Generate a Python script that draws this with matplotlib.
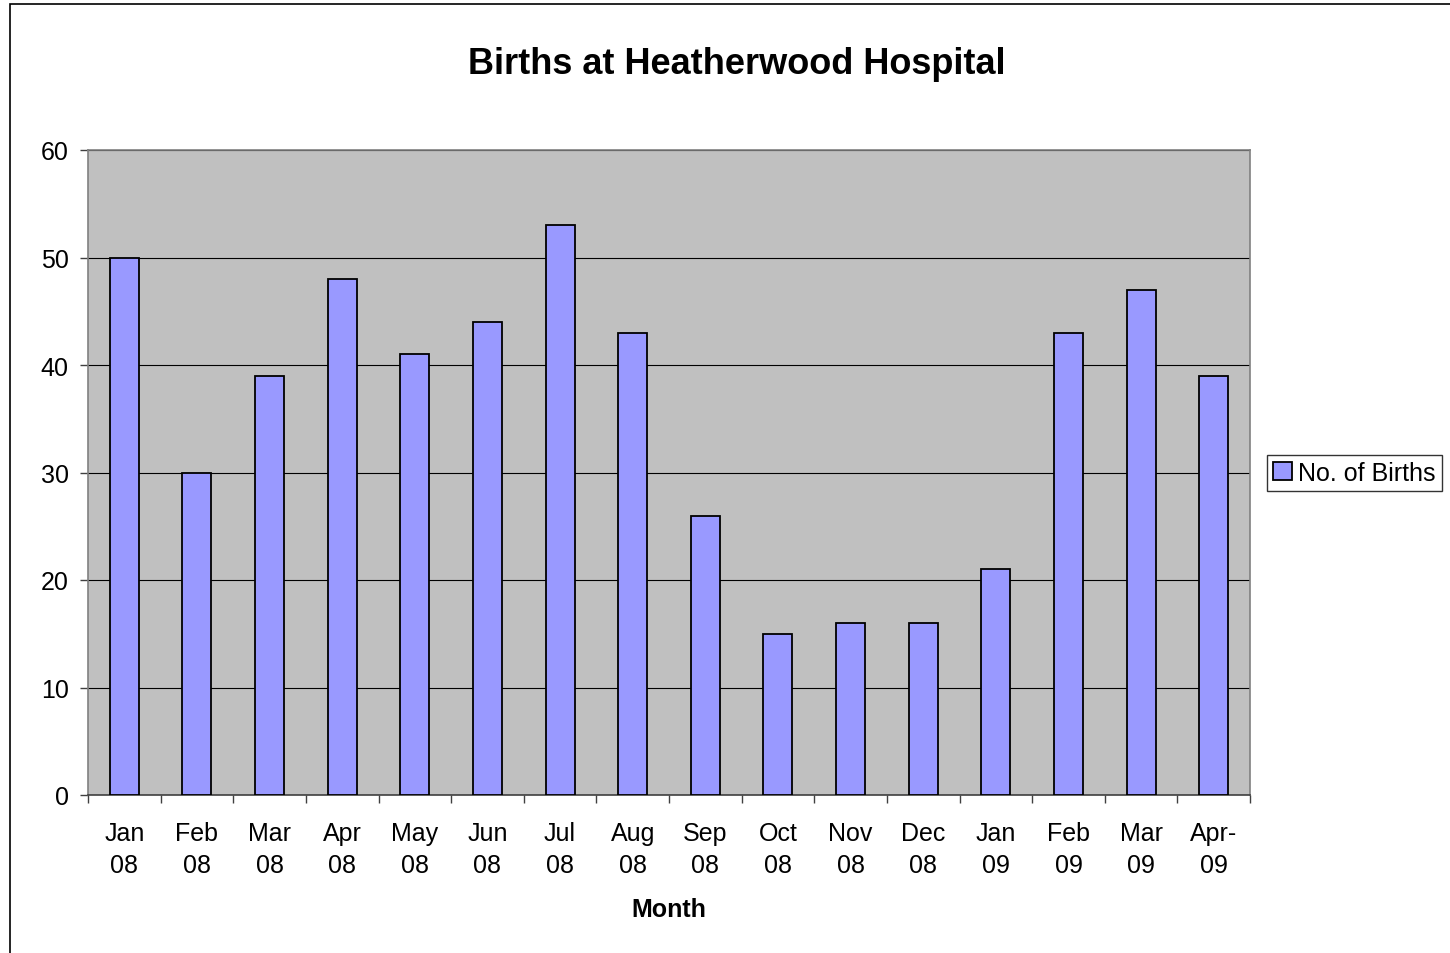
import matplotlib
matplotlib.use("Agg")
import matplotlib.pyplot as plt
from matplotlib.patches import Rectangle

# monthly births, Jan 2008 - Apr 2009
months = ["Jan\n08", "Feb\n08", "Mar\n08", "Apr\n08", "May\n08", "Jun\n08",
          "Jul\n08", "Aug\n08", "Sep\n08", "Oct\n08", "Nov\n08", "Dec\n08",
          "Jan\n09", "Feb\n09", "Mar\n09", "Apr-\n09"]
births = [50, 30, 39, 48, 41, 44, 53, 43, 26, 15, 16, 16, 21, 43, 47, 39]
yticks = [0, 10, 20, 30, 40, 50, 60]

plt.rcParams['font.family'] = ['Liberation Sans', 'DejaVu Sans']

fig = plt.figure(figsize=(14.5, 9.54), dpi=100)
ax = fig.add_axes([88 / 1450, 1 - 796 / 954, (1250 - 88) / 1450, (796 - 151) / 954])

# outer chart border (right/bottom fall outside the image)
fig.patches.append(Rectangle((10 / 1450, -0.1), 1.2, 1.1 - 5 / 954,
                             transform=fig.transFigure, fill=False,
                             edgecolor="black", linewidth=1.2))

ax.set_facecolor("#C0C0C0")
x = list(range(len(months)))
ax.bar(x, births, width=0.4, color="#9999FF", edgecolor="black",
       linewidth=1.3, label="No. of Births", zorder=3)

ax.set_xlim(-0.5, len(months) - 0.5)
ax.set_ylim(0, 60)
ax.set_yticks(yticks)
ax.yaxis.grid(True, color="black", linewidth=0.8, zorder=1)
ax.set_axisbelow(True)

ax.set_xticks(x)
ax.set_xticklabels(months, fontsize=18, linespacing=1.42)
ax.set_xticks([i - 0.5 for i in range(len(months) + 1)], minor=True)
ax.tick_params(axis="x", which="major", length=0, pad=19)
ax.tick_params(axis="x", which="minor", length=6, width=1, color="#404040", direction="out")
ax.tick_params(axis="y", labelsize=18, length=6, width=1, color="#404040", pad=8)

for s in ax.spines.values():
    s.set_color("#808080")
    s.set_linewidth(1.2)
ax.spines["bottom"].set_color("#404040")

ax.set_xlabel("Month", fontsize=18, fontweight="bold", labelpad=14)
fig.text(737 / 1450, 1 - 64 / 954, "Births at Heatherwood Hospital",
         fontsize=26, fontweight="bold", ha="center", va="center")

leg = fig.legend(loc="center left", bbox_to_anchor=(1267 / 1450, 1 - 474 / 954),
                 fontsize=18, frameon=True, fancybox=False, handlelength=0.75,
                 handleheight=0.75, handletextpad=0.25, borderpad=0.25,
                 borderaxespad=0)
leg.get_frame().set_edgecolor("black")
leg.get_frame().set_linewidth(1.0)

fig.savefig("out.png", dpi=100)
